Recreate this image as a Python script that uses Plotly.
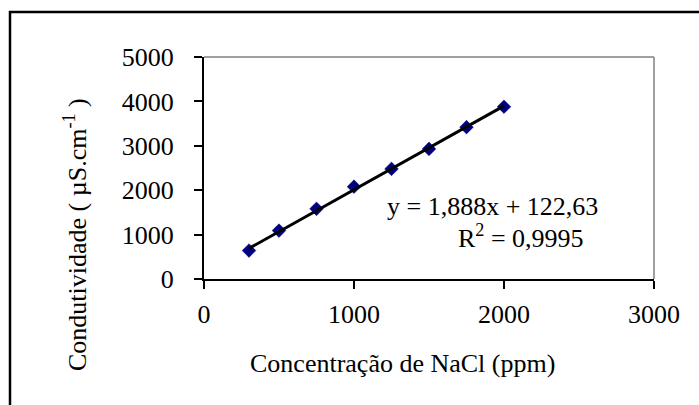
import plotly.graph_objects as go

# Data
concentracao = [300, 500, 750, 1000, 1250, 1500, 1750, 2000]
condutividade = [640, 1090, 1580, 2080, 2480, 2930, 3420, 3880]
slope = 1.888
intercept = 122.63
eq_text = "y = 1,888x + 122,63"
r2_text = "R<sup>2</sup> = 0,9995"
x_ticks = [0, 1000, 2000, 3000]
y_ticks = [0, 1000, 2000, 3000, 4000, 5000]

W, H = 699, 405
L, R, T, B = 204, 45, 57, 126
PW, PH = W - L - R, H - T - B

def px(xp):
    return (xp - L) / PW

def py(yp):
    return (H - B - yp) / PH

FONT = "Liberation Serif, Times New Roman, serif"

fig = go.Figure()
fig.add_trace(go.Scatter(
    x=concentracao, y=condutividade, mode="markers",
    marker=dict(symbol="diamond", size=10.5, color="#000080",
                line=dict(width=0.5, color="#000080")),
    showlegend=False, cliponaxis=False))
xmin, xmax = min(concentracao), max(concentracao)
fig.add_trace(go.Scatter(
    x=[xmin, xmax], y=[slope * xmin + intercept, slope * xmax + intercept],
    mode="lines", line=dict(color="black", width=3), showlegend=False))

fig.update_layout(
    width=W, height=H, margin=dict(l=L, r=R, t=T, b=B, pad=0),
    paper_bgcolor="white", plot_bgcolor="white",
    font=dict(family=FONT, size=26, color="black"),
    xaxis=dict(range=[0, 3000], tickvals=x_ticks, showgrid=False, zeroline=False,
               showline=True, linecolor="black", linewidth=2,
               ticks="outside", ticklen=8, tickwidth=2, tickcolor="black",
               tickfont=dict(size=26), ticklabelstandoff=3),
    yaxis=dict(range=[0, 5000], tickvals=y_ticks, showgrid=False, zeroline=False,
               showline=True, linecolor="black", linewidth=2,
               ticks="outside", ticklen=8, tickwidth=2, tickcolor="black",
               tickfont=dict(size=26), ticklabelstandoff=15),
    shapes=[
        dict(type="line", xref="paper", yref="paper", x0=0, x1=1, y0=1, y1=1,
             line=dict(color="#808080", width=1.5)),
        dict(type="line", xref="paper", yref="paper", x0=1, x1=1, y0=0, y1=1,
             line=dict(color="#808080", width=1.5)),
        dict(type="rect", xref="paper", yref="paper",
             x0=px(10), x1=px(730), y0=py(12), y1=py(430),
             line=dict(color="black", width=2.5), fillcolor="rgba(0,0,0,0)"),
    ],
    annotations=[
        dict(text=eq_text, x=px(492), y=py(206), xref="paper", yref="paper",
             showarrow=False, xanchor="center", yanchor="middle",
             font=dict(size=26)),
        dict(text=r2_text, x=px(521), y=py(237), xref="paper", yref="paper",
             showarrow=False, xanchor="center", yanchor="middle",
             font=dict(size=26)),
        dict(text="Concentração de NaCl (ppm)", x=px(402), y=py(363),
             xref="paper", yref="paper", showarrow=False,
             xanchor="center", yanchor="middle", font=dict(size=26)),
        dict(text="Condutividade ( µS.cm<sup>-1</sup> )", x=px(75), y=py(235),
             xref="paper", yref="paper", showarrow=False, textangle=-90,
             xanchor="center", yanchor="middle", font=dict(size=26)),
    ],
)

fig.write_html("out.html")
